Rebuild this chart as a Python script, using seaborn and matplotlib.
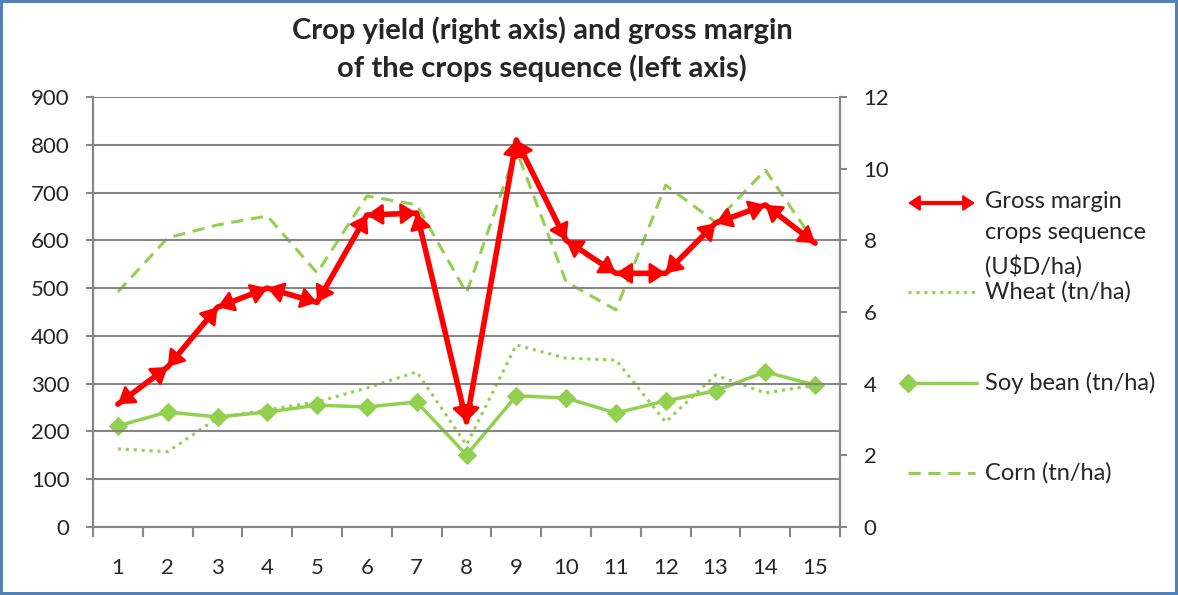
import matplotlib
matplotlib.use('Agg')
import matplotlib.pyplot as plt
import matplotlib.patches as mpatches
from matplotlib.lines import Line2D
import seaborn as sns

### values
seq = list(range(1, 16))
gross_margin = [257, 335, 460, 500, 470, 653, 657, 220, 810, 600, 531, 531, 636, 674, 594]
wheat = [2.18, 2.10, 3.04, 3.27, 3.49, 3.88, 4.33, 2.29, 5.08, 4.71, 4.66, 2.93, 4.24, 3.74, 3.96]
soy_bean = [2.82, 3.21, 3.07, 3.21, 3.40, 3.35, 3.49, 2.01, 3.66, 3.60, 3.18, 3.52, 3.80, 4.33, 3.96]
corn = [6.56, 8.07, 8.43, 8.68, 7.09, 9.24, 8.99, 6.53, 10.52, 6.84, 6.06, 9.54, 8.51, 9.96, 7.93]
left_ticks = list(range(0, 1000, 100))
right_ticks = list(range(0, 14, 2))
labels = ['Gross margin\ncrops sequence\n(U\\$D/ha)', 'Wheat (tn/ha)', 'Soy bean (tn/ha)', 'Corn (tn/ha)']

RED = '#FF0000'
GREEN = '#92D050'
GRAY = '#868686'
ARROW = '<|-|>,head_length=0.6,head_width=0.4'

sns.set_style('white')
plt.rcParams['font.family'] = ['Lato', 'DejaVu Sans']

fig = plt.figure(figsize=(11.78, 5.95), dpi=100)
fig.patch.set_edgecolor('#4F81BD')
fig.patch.set_linewidth(4)
ax = fig.add_axes([93 / 1178, 1 - 527 / 595, (840 - 93) / 1178, 430 / 595])
ax2 = ax.twinx()

### yields on the right axis
sns.lineplot(x=seq, y=wheat, ax=ax2, color=GREEN, lw=2.2, linestyle=(0, (1, 1.6)))
sns.lineplot(x=seq, y=corn, ax=ax2, color=GREEN, lw=2.2, linestyle=(0, (4, 2.5)))
sns.lineplot(x=seq, y=soy_bean, ax=ax2, color=GREEN, lw=2.5, marker='D', markersize=9,
             markeredgecolor=GREEN)

### gross margin on the left axis, drawn on top
ax.set_zorder(ax2.get_zorder() + 1)
ax.patch.set_visible(False)
sns.lineplot(x=seq, y=gross_margin, ax=ax, color=RED, lw=4)
for i in range(len(seq) - 1):
    ax.annotate('', xy=(seq[i + 1], gross_margin[i + 1]), xytext=(seq[i], gross_margin[i]),
                arrowprops=dict(arrowstyle=ARROW, mutation_scale=16, color=RED, lw=2,
                                shrinkA=0, shrinkB=0))

ax.set_xlim(0.5, 15.5)
ax.set_ylim(0, 900)
ax2.set_ylim(0, 12)
ax.set_yticks(left_ticks)
ax2.set_yticks(right_ticks)
ax.set_xticks([i + 0.5 for i in range(0, 16)])
ax.set_xticklabels([])
ax.set_xticks(seq, minor=True)
ax.set_xticklabels([str(s) for s in seq], minor=True)
ax.grid(axis='y', color=GRAY, lw=1.5)
ax.grid(axis='x', visible=False)
ax2.grid(False)

for a in (ax, ax2):
    for side in ('left', 'right', 'bottom'):
        a.spines[side].set_visible(True)
        a.spines[side].set_color(GRAY)
        a.spines[side].set_linewidth(1.5)
    a.spines['top'].set_visible(False)
ax.tick_params(axis='y', which='major', length=5, width=1.5, color=GRAY, labelsize=16, pad=12, left=True)
ax2.tick_params(axis='y', which='major', length=5, width=1.5, color=GRAY, labelsize=16, pad=12, right=True)
ax.tick_params(axis='x', which='major', length=7, width=1.5, color=GRAY, bottom=True)
ax.tick_params(axis='x', which='minor', length=0, labelsize=16, pad=22)
ax.set_xlabel('')

fig.text(542 / 1178, 1 - 16 / 595, 'Crop yield (right axis) and gross margin\nof the crops sequence (left axis)',
         ha='center', va='top', fontsize=21, fontweight='bold', linespacing=1.5)

### legend drawn by hand, Excel style
def fx(px):
    return px / 1178

def fy(py):
    return 1 - py / 595

fig.add_artist(mpatches.FancyArrowPatch((fx(908), fy(203)), (fx(975), fy(203)), transform=fig.transFigure,
                                        arrowstyle=ARROW, mutation_scale=12, color=RED, lw=1.5,
                                        shrinkA=0, shrinkB=0))
fig.add_artist(Line2D([fx(915), fx(968)], [fy(203)] * 2, transform=fig.transFigure, color=RED, lw=3))
fig.text(fx(985), fy(191), labels[0], va='top', fontsize=17, linespacing=1.6)
fig.add_artist(Line2D([fx(908), fx(975)], [fy(292)] * 2, transform=fig.transFigure,
                      color=GREEN, lw=2.2, linestyle=(0, (1, 1.6))))
fig.text(fx(985), fy(292), labels[1], va='center', fontsize=17)
fig.add_artist(Line2D([fx(908), fx(977)], [fy(383)] * 2, transform=fig.transFigure,
                      color=GREEN, lw=2.5, marker='D', markersize=9, markevery=[0]))
fig.text(fx(985), fy(383), labels[2], va='center', fontsize=17)
fig.add_artist(Line2D([fx(908), fx(975)], [fy(473)] * 2, transform=fig.transFigure,
                      color=GREEN, lw=2.2, linestyle=(0, (4, 2.5))))
fig.text(fx(985), fy(473), labels[3], va='center', fontsize=17)

fig.savefig('out.png', dpi=100, edgecolor=fig.get_edgecolor())
